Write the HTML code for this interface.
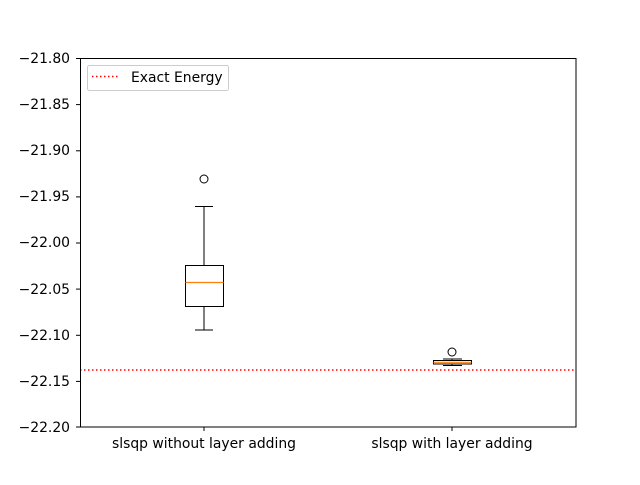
<!DOCTYPE html>
<html><head><meta charset="utf-8"><style>body{margin:0;background:#fff}</style></head><body>
<svg width="640" height="480" xmlns="http://www.w3.org/2000/svg" font-family="DejaVu Sans, sans-serif" font-size="13.9">
<rect x="0" y="0" width="640" height="480" fill="#fff"/>
<line x1="80" y1="370" x2="576" y2="370" stroke="red" stroke-width="1.5" stroke-dasharray="1.5,2.5"/>
<g stroke="#000" stroke-width="1" fill="none">
<rect x="185.5" y="265.5" width="38" height="41"/>
<line x1="204" y1="265.5" x2="204" y2="206.5"/><line x1="195" y1="206.5" x2="213" y2="206.5"/>
<line x1="204" y1="306.5" x2="204" y2="330"/><line x1="195" y1="330" x2="213" y2="330"/>
<circle cx="204" cy="179" r="4"/>
<rect x="433.5" y="360.5" width="38" height="3.5"/>
<line x1="452" y1="360.5" x2="452" y2="359"/><line x1="443" y1="359" x2="462" y2="359"/>
<line x1="452" y1="364" x2="452" y2="365.5"/><line x1="443" y1="365.5" x2="462" y2="365.5"/>
<circle cx="452" cy="352" r="4"/>
</g>
<line x1="185.5" y1="282.5" x2="223.5" y2="282.5" stroke="#ff7f0e" stroke-width="1.2"/>
<line x1="433.5" y1="362.3" x2="471.5" y2="362.3" stroke="#ff7f0e" stroke-width="1.2"/>
<rect x="80.5" y="58.5" width="495.5" height="368.5" fill="none" stroke="#000" stroke-width="1"/>
<g stroke="#000">
<line x1="76" y1="58.5" x2="80" y2="58.5"/><line x1="76" y1="104.6" x2="80" y2="104.6"/><line x1="76" y1="150.8" x2="80" y2="150.8"/><line x1="76" y1="196.9" x2="80" y2="196.9"/><line x1="76" y1="243" x2="80" y2="243"/><line x1="76" y1="289.1" x2="80" y2="289.1"/><line x1="76" y1="335.3" x2="80" y2="335.3"/><line x1="76" y1="381.4" x2="80" y2="381.4"/><line x1="76" y1="427" x2="80" y2="427"/>
<line x1="204" y1="427" x2="204" y2="431"/><line x1="452" y1="427" x2="452" y2="431"/>
</g>
<g text-anchor="end" fill="#000">
<text x="70" y="63">−21.80</text><text x="70" y="109">−21.85</text><text x="70" y="155">−21.90</text><text x="70" y="201">−21.95</text><text x="70" y="247">−22.00</text><text x="70" y="294">−22.05</text><text x="70" y="340">−22.10</text><text x="70" y="386">−22.15</text><text x="70" y="432">−22.20</text>
</g>
<text x="204" y="448" text-anchor="middle">slsqp without layer adding</text>
<text x="452" y="448" text-anchor="middle">slsqp with layer adding</text>
<rect x="87.5" y="65.5" width="141" height="25" rx="2" fill="#fff" stroke="#ccc"/>
<line x1="92" y1="76.5" x2="120" y2="76.5" stroke="red" stroke-width="1.5" stroke-dasharray="1.5,2.5"/>
<text x="131" y="82">Exact Energy</text>
</svg>
</body></html>
